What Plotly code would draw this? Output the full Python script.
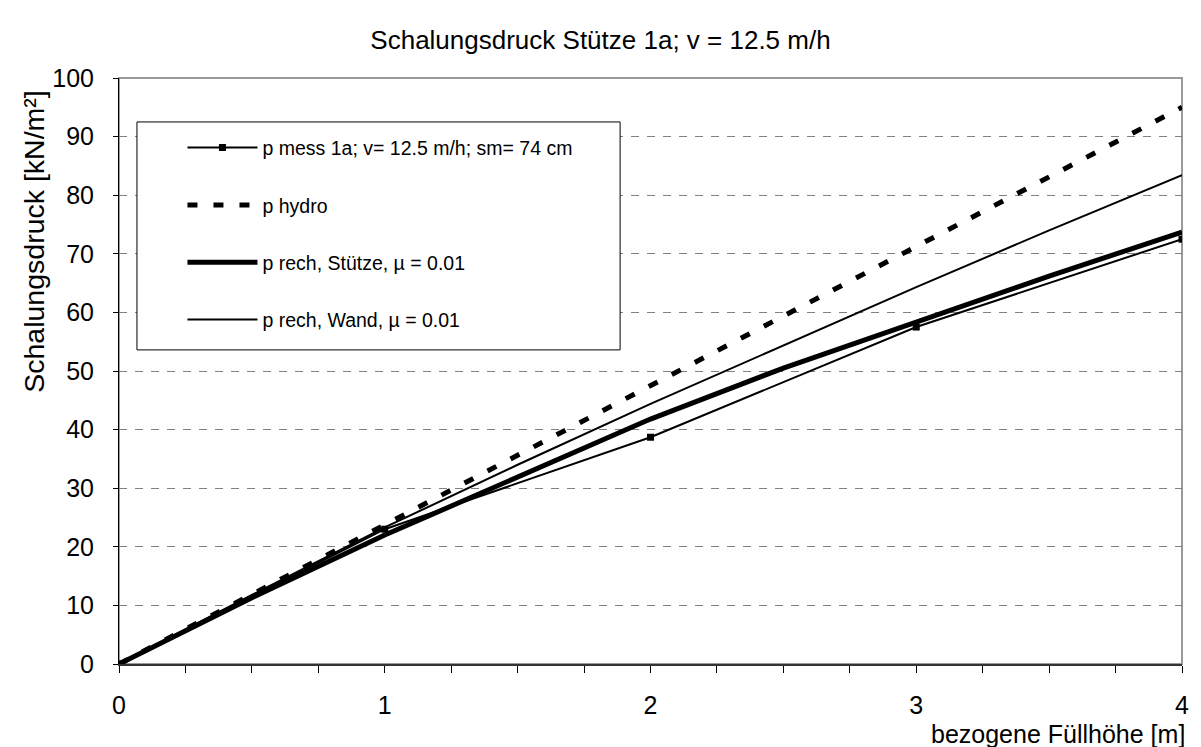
import plotly.graph_objects as go

# ---- data ----
h_mess = [0, 1, 2, 3, 4]
p_mess = [0, 23.0, 38.7, 57.5, 72.5]

h_hydro = [0, 4]
p_hydro = [0, 95.0]

h_rech = [0, 0.5, 1, 1.5, 2, 2.5, 3, 3.5, 4]
p_stuetze = [0, 11.3, 22.0, 32.0, 41.8, 50.5, 58.3, 66.2, 73.7]
p_wand = [0, 11.8, 23.3, 34.0, 44.4, 54.4, 64.3, 74.0, 83.4]

names = [
    "p mess 1a; v= 12.5 m/h; sm= 74 cm",
    "p hydro",
    "p rech, Stütze, µ = 0.01",
    "p rech, Wand, µ = 0.01",
]

x_ticks = [0, 1, 2, 3, 4]
y_ticks = [0, 10, 20, 30, 40, 50, 60, 70, 80, 90, 100]

FONT = "Liberation Sans, Arial, sans-serif"

fig = go.Figure()
fig.add_trace(go.Scatter(x=h_rech, y=p_wand, name=names[3], mode="lines",
                         line=dict(color="black", width=2), legendrank=4))
fig.add_trace(go.Scatter(x=h_rech, y=p_stuetze, name=names[2], mode="lines",
                         line=dict(color="black", width=5), legendrank=3))
fig.add_trace(go.Scatter(x=h_hydro, y=p_hydro, name=names[1], mode="lines",
                         line=dict(color="black", width=5, dash="10px,16px"), legendrank=2))
fig.add_trace(go.Scatter(x=h_mess, y=p_mess, name=names[0], mode="lines+markers",
                         line=dict(color="black", width=2),
                         marker=dict(symbol="square", size=7, color="black"), legendrank=1))

for i, tr in enumerate(fig.data):
    tr.legendgroup = f"g{i}"

# legend box (white, covers gridlines)
fig.add_shape(type="rect", xref="paper", yref="paper", x0=0.0169, x1=0.4714, y0=0.536, y1=0.925,
              line=dict(color="black", width=1), fillcolor="white", layer="above")
# plot frame
fig.add_shape(type="rect", xref="paper", yref="paper", x0=0, x1=1, y0=0, y1=1,
              line=dict(color="#9a9a9a", width=2), layer="below")

fig.update_layout(
    width=1201, height=747,
    margin=dict(l=119, r=15, t=78, b=83),
    paper_bgcolor="white", plot_bgcolor="white",
    font=dict(family=FONT, color="black", size=25),
    title=dict(text="Schalungsdruck Stütze 1a; v = 12.5 m/h", x=0.5, xanchor="center",
               y=1 - 40 / 747, yanchor="middle", font=dict(size=26)),
    showlegend=True,
    legend=dict(x=0.0597, y=0.914, xanchor="left", yanchor="top",
                bgcolor="rgba(0,0,0,0)", borderwidth=0, itemwidth=70,
                font=dict(size=19.5), traceorder="grouped", tracegroupgap=29),
    annotations=[
        dict(text="bezogene Füllhöhe [m]", xref="paper", yref="paper", x=1.005, y=-0.1195,
             xanchor="right", yanchor="middle", showarrow=False, font=dict(size=25)),
        dict(text="Schalungsdruck [kN/m²]", xref="paper", yref="paper", x=-0.0797, y=0.721,
             xanchor="center", yanchor="middle", textangle=-90, showarrow=False, font=dict(size=28.5)),
    ],
)

fig.update_xaxes(range=[0, 4], tickvals=x_ticks, ticks="outside", ticklen=7, tickcolor="black",
                 showline=True, linecolor="#333333", linewidth=2, showgrid=False, zeroline=False,
                 ticklabelstandoff=11, tickfont=dict(size=25),
                 minor=dict(dtick=0.25, ticks="outside", ticklen=7, tickcolor="black"))
fig.update_yaxes(range=[0, 100], tickvals=y_ticks, ticks="outside", ticklen=5, tickcolor="black",
                 showline=True, linecolor="black", linewidth=1, zeroline=False,
                 showgrid=True, gridcolor="#808080", griddash="8px,8px", gridwidth=1,
                 ticklabelstandoff=14, tickfont=dict(size=25))

fig.write_html("out.html")
